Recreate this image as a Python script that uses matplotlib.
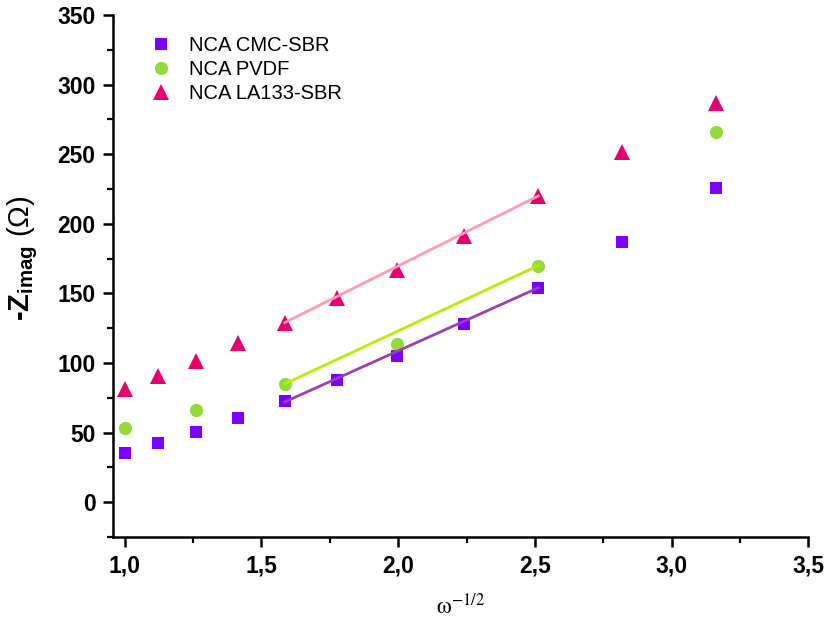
import numpy as np
import matplotlib
matplotlib.use("Agg")
import matplotlib.pyplot as plt
from matplotlib.ticker import MultipleLocator, FuncFormatter

plt.rcParams['font.family'] = ['Liberation Sans', 'DejaVu Sans']
plt.rcParams['mathtext.fontset'] = 'custom'
plt.rcParams['mathtext.rm'] = 'Liberation Sans'
plt.rcParams['mathtext.bf'] = 'Liberation Sans:bold'
plt.rcParams['mathtext.it'] = 'Liberation Sans:italic'

# ---- data ----
x_all = [1.0, 1.122, 1.259, 1.413, 1.585, 1.778, 1.995, 2.239, 2.512, 2.818, 3.162]
cmc_sbr = [35.3, 42.5, 50.5, 60.6, 72.9, 88.0, 105.3, 127.7, 153.7, 187.0, 226.0]
x_pvdf = [1.0, 1.259, 1.585, 1.995, 2.512, 3.162]
pvdf = [53.4, 66.4, 85.0, 114.0, 169.6, 265.7]
la133_sbr = [81.5, 91.0, 101.7, 114.7, 129.0, 147.0, 167.0, 191.0, 220.0, 251.8, 287.0]

# linear fit segments (endpoints)
fit_x = [1.585, 2.512]
fit_cmc = [72.0, 154.0]
fit_pvdf = [85.0, 170.0]
fit_la133 = [129.0, 220.0]

labels = ['NCA CMC-SBR', 'NCA PVDF', 'NCA LA133-SBR']

fig = plt.figure(figsize=(8.29, 6.28), dpi=100)
ax = fig.add_axes([0.136, 0.145, 0.839, 0.831])

ax.plot(x_all, cmc_sbr, 's', color='#7B00FF', markersize=8.5, markeredgewidth=0, label=labels[0], zorder=2)
ax.plot(x_pvdf, pvdf, 'o', color='#93DB3C', markersize=9.5, markeredgewidth=0, label=labels[1], zorder=2)
ax.plot(x_all, la133_sbr, '^', color='#E8006E', markersize=11, markeredgewidth=0, label=labels[2], zorder=2)

ax.plot(fit_x, fit_cmc, '-', color='#9B40B3', lw=2, zorder=3)
ax.plot(fit_x, fit_pvdf, '-', color='#B4F000', lw=2, zorder=3)
ax.plot(fit_x, fit_la133, '-', color='#FF9AB2', lw=2, zorder=3)

ax.set_xlim(0.956, 3.5)
ax.set_ylim(-25, 350)

for s in ['top', 'right']:
    ax.spines[s].set_visible(False)
for s in ['left', 'bottom']:
    ax.spines[s].set_linewidth(1.8)

ax.xaxis.set_major_locator(MultipleLocator(0.5))
ax.xaxis.set_minor_locator(MultipleLocator(0.25))
ax.yaxis.set_major_locator(MultipleLocator(50))
ax.yaxis.set_minor_locator(MultipleLocator(25))
ax.xaxis.set_major_formatter(FuncFormatter(lambda v, p: f"{v:.1f}".replace('.', ',')))
ax.yaxis.set_major_formatter(FuncFormatter(lambda v, p: f"{v:.0f}"))
ax.tick_params(which='major', direction='out', length=7.5, width=1.8, labelsize=16.5, pad=5)
ax.tick_params(which='minor', direction='out', length=4, width=1.6)
for lab in ax.get_xticklabels() + ax.get_yticklabels():
    lab.set_fontweight('bold')

ax.set_xlabel(r'$\mathrm{\omega}^{-1/2}$', fontsize=17, math_fontfamily='stix', labelpad=12)
ax.set_ylabel(r'-$\mathbf{Z_{imag}}$ $\mathrm{(\Omega)}$', fontsize=21, fontweight='bold')
ax.yaxis.set_label_coords(-0.105, 0.535)

leg = ax.legend(loc='upper left', bbox_to_anchor=(0.035, 0.975), frameon=False,
                fontsize=14.5, handletextpad=0.6, labelspacing=0.25, borderaxespad=0,
                handlelength=1.6)

fig.savefig('out.png', dpi=100)
